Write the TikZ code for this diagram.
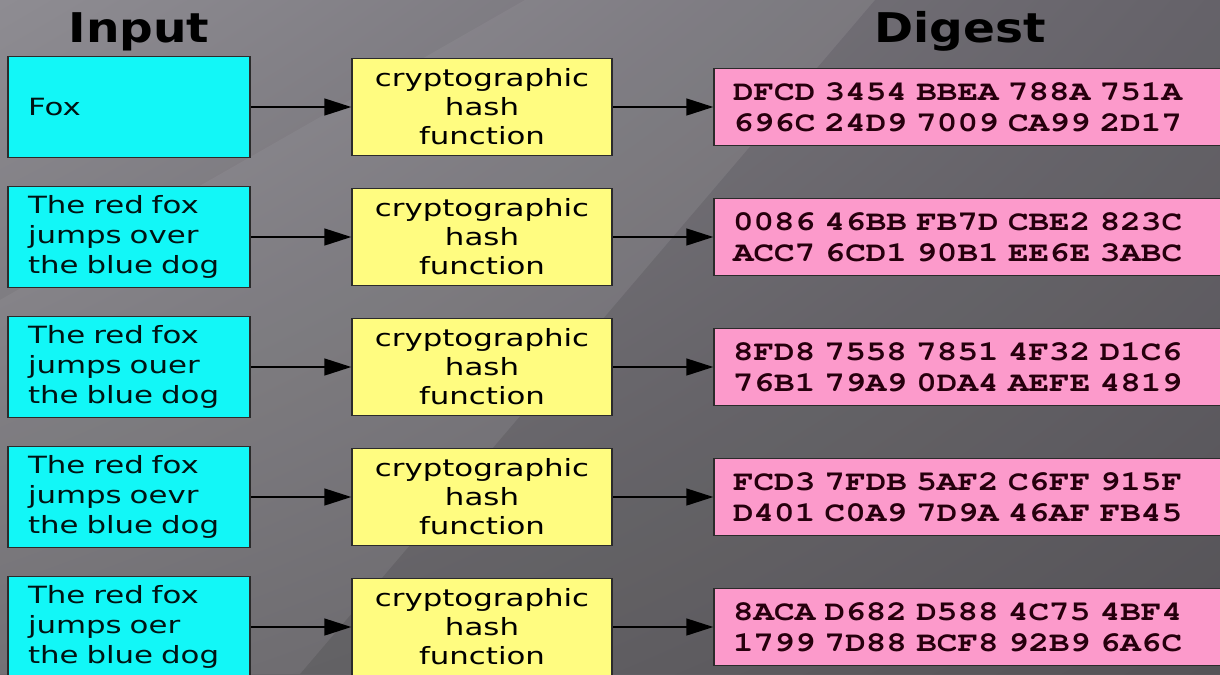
\documentclass[tikz,border=0pt]{standalone}
\usepackage{fontspec}
\usetikzlibrary{positioning,arrows.meta,shadings}
\newfontfamily\boxfont{DejaVu Sans}[FakeStretch=1.3]
\newfontfamily\headfont{DejaVu Sans}[FakeStretch=1.15]
\newfontfamily\hexfont{TeX Gyre Cursor}[FakeStretch=1.22]
\definecolor{inputcyan}{HTML}{12F7F7}
\definecolor{hashyellow}{HTML}{FFFC80}
\definecolor{digestpink}{HTML}{FC9ACB}
\definecolor{boxline}{HTML}{2B2B2B}
\definecolor{bgUL}{HTML}{8E8C92}
\definecolor{bgUR}{HTML}{6A676E}
\definecolor{bgLL}{HTML}{6C6A6E}
\definecolor{bgLR}{HTML}{59575B}
\tikzset{inbox/.style={draw=boxline, line width=0.85pt, fill=inputcyan, text=black!85!teal,
    minimum height=2.02cm, text width=4.04cm, inner xsep=0.4cm, align=left,
    font=\boxfont\fontsize{13.5}{17}\selectfont}}
\tikzset{hashbox/.style={draw=boxline, line width=0.85pt, fill=hashyellow, text=black,
    minimum width=5.2cm, minimum height=1.94cm, align=center,
    font=\boxfont\fontsize{13.5}{16.5}\selectfont}}
\tikzset{digbox/.style={draw=boxline, line width=0.85pt, fill=digestpink, text=black!80!purple,
    minimum height=1.54cm, text width=10.04cm, inner xsep=0.38cm, align=left,
    font=\hexfont\bfseries\fontsize{16}{17.6}\selectfont}}
\tikzset{head/.style={anchor=base, text=black, font=\headfont\bfseries\fontsize{23.3}{26}\selectfont}}
\tikzset{every edge/.style={draw=black, line width=0.85pt, -{Triangle[length=0.54cm,width=0.34cm]}}}
\begin{document}
\begin{tikzpicture}[node distance = 2.6cm]
  \useasboundingbox (0,0) rectangle (24.4,-13.48);
  \clip (0,0) rectangle (24.4,-13.48);
  % background
  \shade[upper left=bgUL, upper right=bgUR, lower left=bgLL, lower right=bgLR] (0,0) rectangle (24.4,-13.48);
  \fill[white, opacity=0.05] (10.5,0) -- (17.5,0) -- (6,-13.48) -- (0,-13.48) -- (0,-6) -- cycle;
  \fill[black, opacity=0.04] (17.5,0) -- (24.4,0) -- (24.4,-13.48) -- (6,-13.48) -- cycle;

  \node (input) [head] at (2.78,-0.84) {Input};
  \node (digest) [head] at (19.2,-0.84) {Digest};

  \node (in1) [inbox] at (2.58,-2.14) {Fox};
  \node (in2) [inbox, below of = in1] {The red fox\\jumps over\\the blue dog};
  \node (in3) [inbox, below of = in2] {The red fox\\jumps ouer\\the blue dog};
  \node (in4) [inbox, below of = in3] {The red fox\\jumps oevr\\the blue dog};
  \node (in5) [inbox, below of = in4] {The red fox\\jumps oer\\the blue dog};

  \node (hash1) [hashbox, node distance = 7.06cm, right of = in1] {cryptographic\\hash\\function};
  \node (hash2) [hashbox, below of = hash1] {cryptographic\\hash\\function};
  \node (hash3) [hashbox, below of = hash2] {cryptographic\\hash\\function};
  \node (hash4) [hashbox, below of = hash3] {cryptographic\\hash\\function};
  \node (hash5) [hashbox, below of = hash4] {cryptographic\\hash\\function};

  \node (dig1) [digbox, node distance = 10.04cm, right of = hash1] {DFCD 3454 BBEA 788A 751A\\696C 24D9 7009 CA99 2D17};
  \node (dig2) [digbox, below of = dig1] {0086 46BB FB7D CBE2 823C\\ACC7 6CD1 90B1 EE6E 3ABC};
  \node (dig3) [digbox, below of = dig2] {8FD8 7558 7851 4F32 D1C6\\76B1 79A9 0DA4 AEFE 4819};
  \node (dig4) [digbox, below of = dig3] {FCD3 7FDB 5AF2 C6FF 915F\\D401 C0A9 7D9A 46AF FB45};
  \node (dig5) [digbox, below of = dig4] {8ACA D682 D588 4C75 4BF4\\1799 7D88 BCF8 92B9 6A6C};

  \path (in1) edge (hash1);
  \path (in2) edge (hash2);
  \path (in3) edge (hash3);
  \path (in4) edge (hash4);
  \path (in5) edge (hash5);

  \path (hash1) edge (dig1);
  \path (hash2) edge (dig2);
  \path (hash3) edge (dig3);
  \path (hash4) edge (dig4);
  \path (hash5) edge (dig5);
\end{tikzpicture}
\end{document}
